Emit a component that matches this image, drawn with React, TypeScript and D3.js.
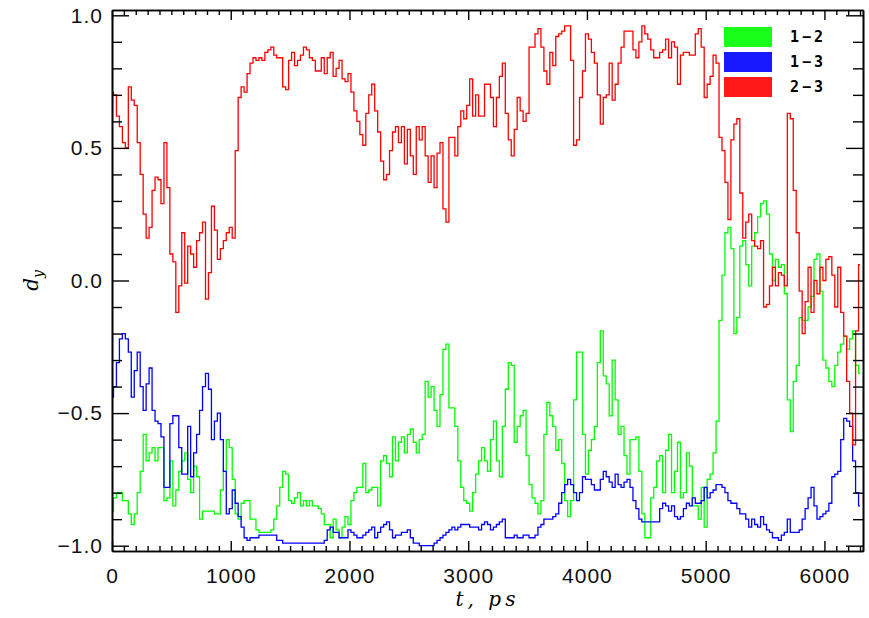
import { useEffect, useRef } from "react";
import * as d3 from "d3";

// sampling step of the trajectories, ps
const T_STEP = 25;

// d_y for pair 1-2 (green), one value every 25 ps, one row = 250 ps
const pair12 = [
  -0.87, -0.82, -0.8, -0.8, -0.83, -0.83, -0.88, -0.92, -0.88, -0.8,
  -0.72, -0.58, -0.68, -0.65, -0.63, -0.68, -0.63, -0.63, -0.83, -0.82,
  -0.68, -0.85, -0.79, -0.72, -0.68, -0.65, -0.75, -0.8, -0.7, -0.74,
  -0.9, -0.87, -0.87, -0.87, -0.87, -0.88, -0.88, -0.79, -0.72, -0.6,
  -0.63, -0.75, -0.88, -0.9, -0.84, -0.83, -0.83, -0.9, -0.9, -0.94,
  -0.95, -0.95, -0.95, -0.95, -0.94, -0.9, -0.85, -0.78, -0.72, -0.73,
  -0.83, -0.84, -0.82, -0.8, -0.85, -0.83, -0.85, -0.83, -0.85, -0.85,
  -0.86, -0.88, -0.92, -0.92, -0.97, -0.9, -0.94, -0.97, -0.93, -0.89,
  -0.92, -0.83, -0.8, -0.78, -0.78, -0.69, -0.8, -0.79, -0.78, -0.78,
  -0.85, -0.68, -0.66, -0.69, -0.74, -0.59, -0.68, -0.61, -0.59, -0.65,
  -0.58, -0.56, -0.61, -0.65, -0.6, -0.58, -0.38, -0.44, -0.4, -0.49,
  -0.55, -0.43, -0.26, -0.24, -0.48, -0.48, -0.55, -0.68, -0.78, -0.83,
  -0.84, -0.87, -0.8, -0.73, -0.68, -0.63, -0.68, -0.72, -0.6, -0.53,
  -0.68, -0.74, -0.55, -0.41, -0.31, -0.32, -0.61, -0.55, -0.51, -0.49,
  -0.66, -0.77, -0.82, -0.84, -0.88, -0.83, -0.58, -0.46, -0.51, -0.55,
  -0.64, -0.6, -0.69, -0.83, -0.89, -0.83, -0.45, -0.27, -0.27, -0.58,
  -0.73, -0.64, -0.6, -0.55, -0.31, -0.19, -0.36, -0.39, -0.51, -0.3,
  -0.45, -0.58, -0.55, -0.66, -0.73, -0.6, -0.6, -0.59, -0.72, -0.88,
  -0.97, -0.97, -0.82, -0.78, -0.68, -0.66, -0.8, -0.64, -0.58, -0.8,
  -0.72, -0.61, -0.82, -0.8, -0.65, -0.7, -0.85, -0.85, -0.9, -0.78,
  -0.93, -0.75, -0.73, -0.65, -0.53, -0.15, 0.02, 0.18, 0.2, 0.12,
  -0.2, -0.14, 0.13, 0.15, 0.06, -0.02, 0.13, 0.18, 0.24, 0.29,
  0.3, 0.25, 0.1, 0.0, 0.08, 0.05, 0.06, -0.05, -0.45, -0.57,
  -0.38, -0.32, -0.14, -0.15, -0.15, -0.1, -0.06, 0.08, 0.1, -0.04,
  -0.3, -0.33, -0.38, -0.4, -0.32, -0.27, -0.24, -0.21, -0.26, -0.22,
  -0.19, -0.32, -0.35,
];

// pair 1-3 (blue)
const pair13 = [
  -0.44, -0.4, -0.31, -0.22, -0.2, -0.22, -0.27, -0.44, -0.34, -0.27,
  -0.4, -0.49, -0.39, -0.33, -0.49, -0.53, -0.54, -0.59, -0.78, -0.78,
  -0.54, -0.51, -0.51, -0.63, -0.73, -0.73, -0.55, -0.74, -0.65, -0.58,
  -0.49, -0.4, -0.35, -0.41, -0.6, -0.53, -0.5, -0.6, -0.72, -0.88,
  -0.86, -0.79, -0.84, -0.89, -0.93, -0.97, -0.98, -0.97, -0.97, -0.97,
  -0.96, -0.96, -0.96, -0.96, -0.96, -0.96, -0.98, -0.98, -0.99, -0.99,
  -0.99, -0.99, -0.99, -0.99, -0.99, -0.99, -0.99, -0.99, -0.99, -0.99,
  -0.99, -0.99, -0.98, -0.94, -0.93, -0.95, -0.95, -0.97, -0.97, -0.97,
  -0.94, -0.95, -0.96, -0.97, -0.97, -0.96, -0.95, -0.94, -0.93, -0.97,
  -0.95, -0.93, -0.92, -0.91, -0.94, -0.97, -0.96, -0.96, -0.95, -0.95,
  -0.94, -0.97, -0.99, -0.99, -1.0, -1.0, -1.0, -1.0, -1.0, -0.99,
  -0.98, -0.97, -0.96, -0.95, -0.94, -0.93, -0.94, -0.93, -0.92, -0.92,
  -0.92, -0.93, -0.93, -0.93, -0.94, -0.92, -0.91, -0.92, -0.94, -0.93,
  -0.92, -0.91, -0.9, -0.97, -0.97, -0.97, -0.96, -0.97, -0.97, -0.96,
  -0.96, -0.97, -0.97, -0.96, -0.93, -0.92, -0.9, -0.9, -0.9, -0.89,
  -0.88, -0.84, -0.8, -0.77, -0.75, -0.77, -0.8, -0.83, -0.8, -0.74,
  -0.75, -0.75, -0.77, -0.79, -0.79, -0.75, -0.72, -0.74, -0.76, -0.78,
  -0.73, -0.77, -0.78, -0.76, -0.75, -0.78, -0.83, -0.86, -0.9, -0.91,
  -0.91, -0.91, -0.91, -0.91, -0.91, -0.86, -0.84, -0.85, -0.87, -0.85,
  -0.89, -0.9, -0.89, -0.86, -0.84, -0.85, -0.82, -0.84, -0.84, -0.83,
  -0.78, -0.82, -0.8, -0.79, -0.77, -0.77, -0.78, -0.8, -0.83, -0.84,
  -0.84, -0.86, -0.88, -0.88, -0.9, -0.93, -0.9, -0.92, -0.93, -0.89,
  -0.92, -0.94, -0.95, -0.97, -0.97, -0.98, -0.96, -0.95, -0.9, -0.95,
  -0.95, -0.95, -0.94, -0.9, -0.86, -0.82, -0.78, -0.85, -0.9, -0.89,
  -0.88, -0.87, -0.84, -0.74, -0.73, -0.72, -0.6, -0.52, -0.53, -0.55,
  -0.68, -0.8, -0.85,
];

// pair 2-3 (red)
const pair23 = [
  0.71, 0.7, 0.62, 0.58, 0.52, 0.5, 0.73, 0.68, 0.66, 0.52,
  0.4, 0.25, 0.16, 0.2, 0.34, 0.39, 0.38, 0.29, 0.52, 0.35,
  0.1, 0.07, -0.12, -0.02, 0.18, -0.01, 0.13, 0.1, 0.05, 0.15,
  0.18, 0.22, -0.07, 0.03, 0.28, 0.19, 0.08, 0.12, 0.15, 0.18,
  0.2, 0.16, 0.49, 0.69, 0.73, 0.71, 0.78, 0.82, 0.84, 0.83,
  0.84, 0.83, 0.86, 0.87, 0.88, 0.85, 0.84, 0.84, 0.73, 0.72,
  0.83, 0.86, 0.81, 0.83, 0.85, 0.88, 0.87, 0.84, 0.83, 0.79,
  0.79, 0.84, 0.78, 0.84, 0.86, 0.77, 0.8, 0.83, 0.76, 0.75,
  0.78, 0.71, 0.64, 0.6, 0.55, 0.51, 0.63, 0.7, 0.74, 0.64,
  0.56, 0.45, 0.38, 0.4, 0.49, 0.56, 0.58, 0.52, 0.58, 0.44,
  0.57, 0.47, 0.4, 0.58, 0.53, 0.58, 0.47, 0.37, 0.47, 0.35,
  0.48, 0.52, 0.27, 0.22, 0.54, 0.54, 0.47, 0.58, 0.64, 0.61,
  0.66, 0.76, 0.62, 0.7, 0.62, 0.62, 0.74, 0.74, 0.69, 0.58,
  0.69, 0.77, 0.82, 0.63, 0.53, 0.47, 0.57, 0.69, 0.64, 0.6,
  0.63, 0.88, 0.88, 0.93, 0.95, 0.88, 0.79, 0.74, 0.86, 0.81,
  0.92, 0.93, 0.94, 0.96, 0.96, 0.83, 0.51, 0.53, 0.69, 0.79,
  0.93, 0.91, 0.86, 0.82, 0.7, 0.59, 0.69, 0.7, 0.82, 0.68,
  0.74, 0.82, 0.88, 0.94, 0.94, 0.94, 0.87, 0.84, 0.9, 0.96,
  0.93, 0.91, 0.87, 0.84, 0.84, 0.86, 0.87, 0.91, 0.84, 0.9,
  0.88, 0.74, 0.85, 0.86, 0.86, 0.85, 0.85, 0.93, 0.95, 0.88,
  0.69, 0.74, 0.77, 0.85, 0.82, 0.54, 0.49, 0.37, 0.23, 0.53,
  0.59, 0.61, 0.33, 0.16, 0.22, 0.25, 0.15, 0.13, 0.12, 0.15,
  -0.1, -0.09, -0.02, 0.05, -0.02, 0.03, 0.02, -0.02, 0.63, 0.61,
  0.34, 0.18, -0.04, -0.2, -0.08, 0.05, -0.12, 0.0, -0.05, 0.05,
  0.0, 0.08, 0.09, 0.02, -0.1, 0.05, -0.12, -0.21, -0.38, -0.5,
  -0.62, -0.19, 0.06,
];

const seriesNames = ["1\u22122", "1\u22123", "2\u22123"];
const xTicks = [0, 1000, 2000, 3000, 4000, 5000, 6000];
const yTicks = [-1.0, -0.5, 0.0, 0.5, 1.0];

function App() {
  const svgRef = useRef<SVGSVGElement>(null);

  useEffect(() => {
    const svg = d3.select(svgRef.current);
    svg.selectAll("*").remove();

    const width = 869;
    const height = 618;
    const margin = { top: 10, right: 6, bottom: 67, left: 112 };
    const font = "'Liberation Sans', Arial, sans-serif";
    const titleFont = "'DejaVu Serif', serif";

    const x = d3
      .scaleLinear()
      .domain([0, 6325])
      .range([margin.left, width - margin.right]);
    const y = d3
      .scaleLinear()
      .domain([-1.02, 1.02])
      .range([height - margin.bottom, margin.top]);

    const xMinor = d3.range(0, 6400, 100).filter((d) => d % 1000 !== 0);
    const yMinor = d3.range(-10, 11).map((d) => d / 10).filter((d) => !yTicks.includes(d));

    // series, drawn 1-2, 1-3, 2-3 so red ends up on top
    const series = [
      { values: pair12, color: "#00ff00" },
      { values: pair13, color: "#0000ff" },
      { values: pair23, color: "#ff0000" },
    ];
    const line = d3
      .line<number>()
      .x((_, i) => x(i * T_STEP))
      .y((d) => y(d))
      .curve(d3.curveStep);

    svg
      .append("g")
      .selectAll("path")
      .data(series)
      .enter()
      .append("path")
      .attr("d", (d) => line(d.values))
      .attr("fill", "none")
      .attr("stroke", (d) => d.color)
      .attr("stroke-width", 1.3);

    // axes: ticks point into the plot, mirrored on top / right
    const bottom = height - margin.bottom;
    const right = width - margin.right;

    const gx = svg
      .append("g")
      .attr("transform", `translate(0,${bottom})`)
      .call(d3.axisBottom(x).tickValues(xTicks).tickSize(-10).tickSizeOuter(0).tickPadding(17).tickFormat(d3.format("d")));
    svg
      .append("g")
      .attr("transform", `translate(0,${bottom})`)
      .call(d3.axisBottom(x).tickValues(xMinor).tickSize(-5).tickSizeOuter(0).tickFormat(() => ""));
    svg
      .append("g")
      .attr("transform", `translate(0,${margin.top})`)
      .call(d3.axisTop(x).tickValues(xTicks).tickSize(-10).tickSizeOuter(0).tickFormat(() => ""));
    svg
      .append("g")
      .attr("transform", `translate(0,${margin.top})`)
      .call(d3.axisTop(x).tickValues(xMinor).tickSize(-5).tickSizeOuter(0).tickFormat(() => ""));

    const gy = svg
      .append("g")
      .attr("transform", `translate(${margin.left},0)`)
      .call(d3.axisLeft(y).tickValues(yTicks).tickSize(-17).tickSizeOuter(0).tickPadding(9).tickFormat(d3.format(".1f")));
    svg
      .append("g")
      .attr("transform", `translate(${margin.left},0)`)
      .call(d3.axisLeft(y).tickValues(yMinor).tickSize(-10).tickSizeOuter(0).tickFormat(() => ""));
    svg
      .append("g")
      .attr("transform", `translate(${right},0)`)
      .call(d3.axisRight(y).tickValues(yTicks).tickSize(-17).tickSizeOuter(0).tickFormat(() => ""));
    svg
      .append("g")
      .attr("transform", `translate(${right},0)`)
      .call(d3.axisRight(y).tickValues(yMinor).tickSize(-10).tickSizeOuter(0).tickFormat(() => ""));

    svg.selectAll(".domain").attr("stroke", "#000").attr("stroke-width", 1.6);
    svg.selectAll(".tick line").attr("stroke", "#000").attr("stroke-width", 1.4);

    [gx, gy].forEach((g) =>
      g
        .selectAll("text")
        .attr("fill", "#111")
        .style("font-family", font)
        .style("font-size", "21px")
        .style("letter-spacing", "1px")
    );

    // axis titles (serif italic, like the original)
    svg
      .append("text")
      .attr("x", (margin.left + right) / 2)
      .attr("y", 606)
      .attr("text-anchor", "middle")
      .style("font-family", titleFont)
      .style("font-size", "20px")
      .style("font-style", "italic")
      .style("letter-spacing", "4px")
      .text("t, ps");

    const yTitle = svg
      .append("text")
      .attr("transform", `translate(38,${y(0)}) rotate(-90)`)
      .attr("text-anchor", "middle")
      .style("font-family", titleFont)
      .style("font-size", "20px")
      .style("font-style", "italic");
    yTitle.append("tspan").text("d");
    yTitle.append("tspan").attr("dy", 5).style("font-size", "14px").text("y");

    // legend
    const legend = svg
      .append("g")
      .selectAll("g")
      .data(series)
      .enter()
      .append("g")
      .attr("transform", (_, i) => `translate(724,${27 + i * 25})`);
    legend
      .append("rect")
      .attr("width", 48)
      .attr("height", 20)
      .attr("fill", (d) => d.color)
      .attr("opacity", 0.9);
    legend
      .append("text")
      .attr("x", 66)
      .attr("y", 15)
      .style("font-family", "'DejaVu Sans Mono', monospace")
      .style("font-weight", "bold")
      .style("font-size", "15px")
      .style("letter-spacing", "3px")
      .text((_, i) => seriesNames[i]);
  }, []);

  return (
    <svg
      ref={svgRef}
      width={869}
      height={618}
      style={{ position: "absolute", left: 0, top: 0, background: "#fff" }}
    ></svg>
  );
}

export default App;
